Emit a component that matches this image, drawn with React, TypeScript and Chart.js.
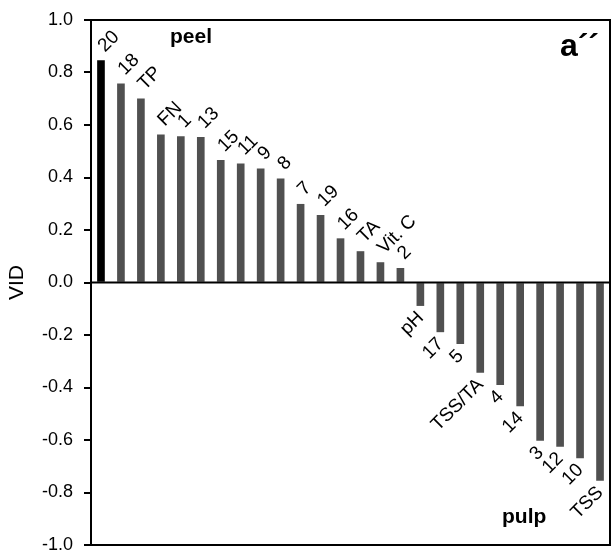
import React, { useEffect, useRef } from "react";
import { Chart, registerables } from "chart.js";

Chart.register(...registerables);

const categories: string[] = [
  "20", "18", "TP", "FN", "1", "13", "15", "11", "9", "8", "7", "19", "16", "TA", "Vit. C", "2",
  "pH", "17", "5", "TSS/TA", "4", "14", "3", "12", "10", "TSS",
];

const vidValues: number[] = [
  0.845, 0.757, 0.7, 0.563, 0.556, 0.553, 0.465, 0.452, 0.433, 0.395, 0.298, 0.256, 0.167, 0.118, 0.076, 0.054,
  -0.088, -0.188, -0.233, -0.343, -0.389, -0.47, -0.602, -0.624, -0.668, -0.754,
];

const yTicks: number[] = [-1.0, -0.8, -0.6, -0.4, -0.2, 0.0, 0.2, 0.4, 0.6, 0.8, 1.0];

const FONT = "'Liberation Sans', Arial, sans-serif";

const decorPlugin = {
  id: "decor",
  afterDatasetsDraw(chart: any) {
    const { ctx, chartArea } = chart;
    const ys = chart.scales.y;
    ctx.save();
    ctx.strokeStyle = "#000";
    ctx.lineWidth = 2;
    ctx.strokeRect(chartArea.left, chartArea.top, chartArea.right - chartArea.left, chartArea.bottom - chartArea.top);
    const y0 = ys.getPixelForValue(0);
    ctx.beginPath();
    ctx.moveTo(chartArea.left, y0);
    ctx.lineTo(chartArea.right, y0);
    ctx.stroke();

    // bar labels
    const meta = chart.getDatasetMeta(0);
    ctx.fillStyle = "#000";
    ctx.font = `19px ${FONT}`;
    ctx.textBaseline = "alphabetic";
    meta.data.forEach((el: any, i: number) => {
      const v = vidValues[i];
      const lbl = categories[i];
      ctx.save();
      if (v >= 0) {
        ctx.translate(el.x + 4, el.y - 8);
        ctx.rotate(-Math.PI / 4);
        ctx.textAlign = "left";
      } else {
        ctx.translate(el.x + 4, el.y + 13);
        ctx.rotate(-Math.PI / 4);
        ctx.textAlign = "right";
      }
      ctx.fillText(lbl, 0, 0);
      ctx.restore();
    });

    // annotations
    ctx.font = `bold 21px ${FONT}`;
    ctx.textAlign = "left";
    ctx.textBaseline = "alphabetic";
    ctx.fillText("peel", chartArea.left + 79, chartArea.top + 23);
    ctx.fillText("pulp", chartArea.left + 411, chartArea.bottom - 22);
    ctx.font = `bold 32px ${FONT}`;
    ctx.textAlign = "right";
    ctx.fillText("a\u00b4\u00b4", chartArea.right - 11, chartArea.top + 36);
    ctx.restore();
  },
};

export default function App() {
  const ref = useRef<HTMLCanvasElement | null>(null);
  useEffect(() => {
    if (!ref.current) return;
    const chart = new Chart(ref.current, {
      type: "bar",
      data: {
        labels: categories,
        datasets: [
          {
            data: vidValues,
            backgroundColor: (c: any) => (c.dataIndex === 0 ? "#000000" : "#505050"),
            barThickness: 7,
            borderWidth: 0,
          },
        ],
      },
      options: {
        responsive: false,
        animation: false,
        devicePixelRatio: 1,
        layout: { padding: { left: 0, top: 20, right: 1, bottom: 9 } },
        plugins: { legend: { display: false }, tooltip: { enabled: false }, title: { display: false } },
        scales: {
          x: { display: false, offset: true },
          y: {
            min: -1,
            max: 1,
            afterFit: (s: any) => {
              s.width = 91;
              s.paddingTop = 0;
              s.paddingBottom = 0;
            },
            afterBuildTicks: (s: any) => {
              s.ticks = yTicks.map((v) => ({ value: v }));
            },
            ticks: {
              color: "#000",
              font: { family: FONT, size: 18 },
              padding: 11,
              callback: (v: any) => (Math.abs(Number(v)) < 1e-9 ? 0 : Number(v)).toFixed(1),
            },
            grid: { drawOnChartArea: false, drawTicks: true, tickLength: 7, color: "#000", lineWidth: 2 },
            border: { display: true, color: "#000", width: 2 },
            title: {
              display: true,
              text: "VID",
              color: "#000",
              font: { family: FONT, size: 21 },
              padding: { top: 5, bottom: 0 },
            },
          },
        },
      },
      plugins: [decorPlugin],
    } as any);
    return () => chart.destroy();
  }, []);
  return (
    <div style={{ position: "absolute", left: 0, top: 0, width: 611, height: 554 }}>
      <canvas ref={ref} width={611} height={554} style={{ display: "block" }} />
    </div>
  );
}
